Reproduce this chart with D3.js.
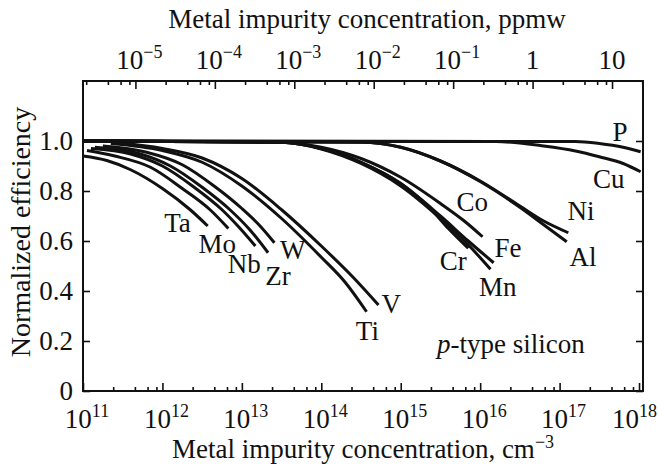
<!DOCTYPE html>
<html>
<head>
  <title>Normalized efficiency vs metal impurity</title>
  <script src="https://d3js.org/d3.v7.min.js"></script>
  <style>
    body { margin: 0; background: #fff; }
    text { font-family: "Liberation Serif", "Times New Roman", Times, serif; fill: #111; }
  </style>
</head>
<body>
<div id="chart"></div>
<script>
  // each curve: [log10 concentration (cm^-3), normalized efficiency]
  var ta = [[11.0, 0.94], [11.3, 0.922], [11.6, 0.885], [12.0, 0.81], [12.35, 0.725], [12.57, 0.66]];
  var mo = [[11.05, 0.962], [11.4, 0.94], [11.85, 0.895], [12.25, 0.81], [12.6, 0.725], [12.83, 0.65]];
  var nb = [[11.1, 0.97], [11.6, 0.948], [12.0, 0.9], [12.4, 0.815], [12.75, 0.725], [12.95, 0.66], [13.17, 0.58]];
  var zr = [[11.15, 0.975], [11.7, 0.95], [12.1, 0.9], [12.5, 0.815], [12.85, 0.725], [13.1, 0.645], [13.33, 0.553]];
  var w  = [[11.25, 0.98], [11.8, 0.955], [12.25, 0.905], [12.65, 0.82], [13.0, 0.73], [13.2, 0.67], [13.41, 0.593]];
  var ti = [[11.35, 0.99], [12.0, 0.962], [12.5, 0.915], [13.0, 0.82], [13.5, 0.69], [14.0, 0.535], [14.3, 0.435], [14.57, 0.317]];
  var v  = [[11.45, 0.993], [12.0, 0.97], [12.5, 0.932], [13.0, 0.85], [13.5, 0.725], [14.0, 0.58], [14.4, 0.455], [14.72, 0.344]];
  var co = [[11.0, 1.0], [13.5, 0.995], [14.0, 0.975], [14.5, 0.93], [15.0, 0.855], [15.5, 0.75], [15.8, 0.68], [16.03, 0.617]];
  var cr = [[11.0, 1.0], [13.5, 0.995], [14.0, 0.97], [14.5, 0.915], [15.0, 0.83], [15.4, 0.72], [15.6, 0.65], [15.85, 0.571]];
  var fe = [[11.0, 1.0], [13.5, 0.995], [14.0, 0.97], [14.5, 0.915], [15.0, 0.83], [15.5, 0.7], [15.85, 0.6], [16.17, 0.513]];
  var mn = [[11.0, 1.0], [13.5, 0.995], [14.0, 0.968], [14.5, 0.91], [15.0, 0.82], [15.5, 0.69], [15.85, 0.585], [16.13, 0.487]];
  var ni = [[11.0, 1.0], [14.5, 0.995], [15.0, 0.975], [15.5, 0.92], [16.0, 0.84], [16.5, 0.74], [16.8, 0.68], [17.11, 0.633]];
  var al = [[11.0, 1.0], [14.5, 0.995], [15.0, 0.975], [15.5, 0.92], [16.0, 0.838], [16.5, 0.735], [16.8, 0.665], [17.09, 0.597]];
  var cu = [[11.0, 1.0], [16.2, 0.998], [16.8, 0.98], [17.2, 0.96], [17.5, 0.937], [17.8, 0.91], [18.02, 0.877]];
  var p  = [[11.0, 1.0], [17.2, 0.998], [17.5, 0.99], [17.8, 0.975], [18.02, 0.957]];

  var curves = [ta, mo, nb, zr, w, ti, v, co, cr, fe, mn, ni, al, cu, p];

  // curve names and where their labels sit, in data units [log10 N, efficiency]
  var names = ["Ta", "Mo", "Nb", "Zr", "W", "Ti", "V", "Co", "Cr", "Fe", "Mn", "Ni", "Al", "Cu", "P"];
  var nameSpots = [[12.19, 0.636], [12.69, 0.552], [13.03, 0.472], [13.455, 0.424], [13.64, 0.53],
                   [14.58, 0.204], [14.88, 0.312], [15.90, 0.721], [15.66, 0.484], [16.35, 0.538],
                   [16.22, 0.38], [17.27, 0.684], [17.295, 0.50], [17.62, 0.812], [17.76, 1.002]];

  var yTicks = [0, 0.2, 0.4, 0.6, 0.8, 1.0];
  var cmDecades = [11, 12, 13, 14, 15, 16, 17, 18];
  var ppmwDecades = [-5, -4, -3, -2, -1, 0, 1];
  var ppmwLabels = ["10|\u22125", "10|\u22124", "10|\u22123", "10|\u22122", "10|\u22121", "1", "10"];
  var minorSteps = [2.4, 4.5, 6.5, 8.4];
  var ppmwToCm = Math.pow(10, 16.66);   // 1 ppmw in cm^-3

  var width = 658, height = 464;
  var margin = {top: 81, right: 15, bottom: 73, left: 83};
  var plotW = width - margin.left - margin.right,
      plotH = height - margin.top - margin.bottom;
  var fs = 27, fsSup = 18;

  var svg = d3.select("#chart")
    .append("svg")
    .attr("width", width)
    .attr("height", height);

  var g = svg.append("g")
    .attr("transform", "translate(" + margin.left + "," + margin.top + ")");

  var x = d3.scaleLog().domain([1e11, Math.pow(10, 18.05)]).range([0, plotW]);
  var xTop = d3.scaleLog().domain([1e11 / ppmwToCm, Math.pow(10, 18.05) / ppmwToCm]).range([0, plotW]);
  var y = d3.scaleLinear().domain([0, 1.24]).range([plotH, 0]);

  function minors(decades) {
    var out = [];
    for (var i = decades[0] - 1; i <= decades[decades.length - 1]; i++) {
      minorSteps.forEach(function(m) { out.push(m * Math.pow(10, i)); });
    }
    return out;
  }

  function inside(sc) {
    var d = sc.domain();
    return function(t) { return t >= d[0] && t <= d[1]; };
  }

  // bottom axis (cm^-3)
  var cmMajor = cmDecades.map(function(e) { return Math.pow(10, e); });
  g.append("g").attr("class", "ax")
    .attr("transform", "translate(0," + plotH + ")")
    .call(d3.axisBottom(x).tickValues(cmMajor).tickSize(-8).tickFormat(""));
  g.append("g").attr("class", "ax")
    .attr("transform", "translate(0," + plotH + ")")
    .call(d3.axisBottom(x).tickValues(minors(cmDecades).filter(inside(x))).tickSize(-4).tickFormat(""));

  // top axis (ppmw)
  var ppMajor = ppmwDecades.map(function(e) { return Math.pow(10, e); });
  g.append("g").attr("class", "ax")
    .call(d3.axisTop(xTop).tickValues(ppMajor).tickSize(-8).tickFormat(""));
  g.append("g").attr("class", "ax")
    .call(d3.axisTop(xTop).tickValues(minors(ppmwDecades.concat([2])).filter(inside(xTop))).tickSize(-4).tickFormat(""));

  // left and right axes
  g.append("g").attr("class", "ax")
    .call(d3.axisLeft(y).tickValues(yTicks).tickSize(-7).tickPadding(10)
      .tickFormat(function(d) { return d === 0 ? "0" : d.toFixed(1); }));
  g.append("g").attr("class", "ax")
    .attr("transform", "translate(" + plotW + ",0)")
    .call(d3.axisRight(y).tickValues(yTicks).tickSize(-7).tickFormat(""));

  g.selectAll(".ax .domain").remove();
  g.selectAll(".ax line").attr("stroke", "#111").attr("stroke-width", 1.6);
  g.selectAll(".ax text").attr("font-size", fs).attr("fill", "#111")
    .style("font-family", "'Liberation Serif', 'Times New Roman', serif");

  // frame
  g.append("rect")
    .attr("width", plotW)
    .attr("height", plotH)
    .attr("fill", "none")
    .attr("stroke", "#111")
    .attr("stroke-width", 2);

  // decade labels with superscripts
  var bottomLab = g.selectAll(".blab")
    .data(cmDecades)
    .enter()
    .append("text")
    .attr("class", "blab")
    .attr("x", function(d, i) {
      return i === cmDecades.length - 1 ? width - margin.left - 1 : x(Math.pow(10, d)) + 4;
    })
    .attr("y", plotH + 37)
    .attr("text-anchor", function(d, i) { return i === cmDecades.length - 1 ? "end" : "middle"; })
    .attr("font-size", fs);
  bottomLab.append("tspan").text("10");
  bottomLab.append("tspan").attr("dy", -11).attr("font-size", fsSup).text(function(d) { return d; });

  var topLab = g.selectAll(".tlab")
    .data(ppmwDecades)
    .enter()
    .append("text")
    .attr("class", "tlab")
    .attr("x", function(d, i) { return xTop(Math.pow(10, d)) + (ppmwLabels[i].indexOf("|") > 0 ? 4 : 0); })
    .attr("y", -12)
    .attr("text-anchor", "middle")
    .attr("font-size", fs);
  topLab.append("tspan").text(function(d, i) { return ppmwLabels[i].split("|")[0]; });
  topLab.append("tspan").attr("dy", -11).attr("font-size", fsSup)
    .text(function(d, i) { return ppmwLabels[i].split("|")[1] || ""; });

  // axis titles
  var xTitle = svg.append("text")
    .attr("x", margin.left + plotW / 2)
    .attr("y", 458)
    .attr("text-anchor", "middle")
    .attr("font-size", fs);
  xTitle.append("tspan").text("Metal impurity concentration, cm");
  xTitle.append("tspan").attr("dy", -10).attr("font-size", fsSup).text("\u22123");

  svg.append("text")
    .attr("x", margin.left + plotW / 2 + 4)
    .attr("y", 28)
    .attr("text-anchor", "middle")
    .attr("font-size", fs)
    .text("Metal impurity concentration, ppmw");

  svg.append("text")
    .attr("transform", "rotate(-90)")
    .attr("x", -(margin.top + plotH / 2 - 4))
    .attr("y", 30)
    .attr("text-anchor", "middle")
    .attr("font-size", fs + 1)
    .text("Normalized efficiency");

  // curves
  var line = d3.line()
    .x(function(d) { return x(Math.pow(10, d[0])); })
    .y(function(d) { return y(d[1]); })
    .curve(d3.curveMonotoneX);

  g.selectAll(".curve")
    .data(curves)
    .enter()
    .append("path")
    .attr("class", "curve")
    .attr("d", line)
    .attr("fill", "none")
    .attr("stroke", "#111")
    .attr("stroke-width", 3);

  g.selectAll(".name")
    .data(names)
    .enter()
    .append("text")
    .attr("class", "name")
    .attr("x", function(d, i) { return x(Math.pow(10, nameSpots[i][0])); })
    .attr("y", function(d, i) { return y(nameSpots[i][1]); })
    .attr("text-anchor", "middle")
    .attr("font-size", fs)
    .text(function(d) { return d; });

  var note = g.append("text")
    .attr("x", x(Math.pow(10, 15.457)))
    .attr("y", y(0.152))
    .attr("font-size", fs);
  note.append("tspan").attr("font-style", "italic").text("p");
  note.append("tspan").text("-type silicon");
</script>
</body>
</html>
